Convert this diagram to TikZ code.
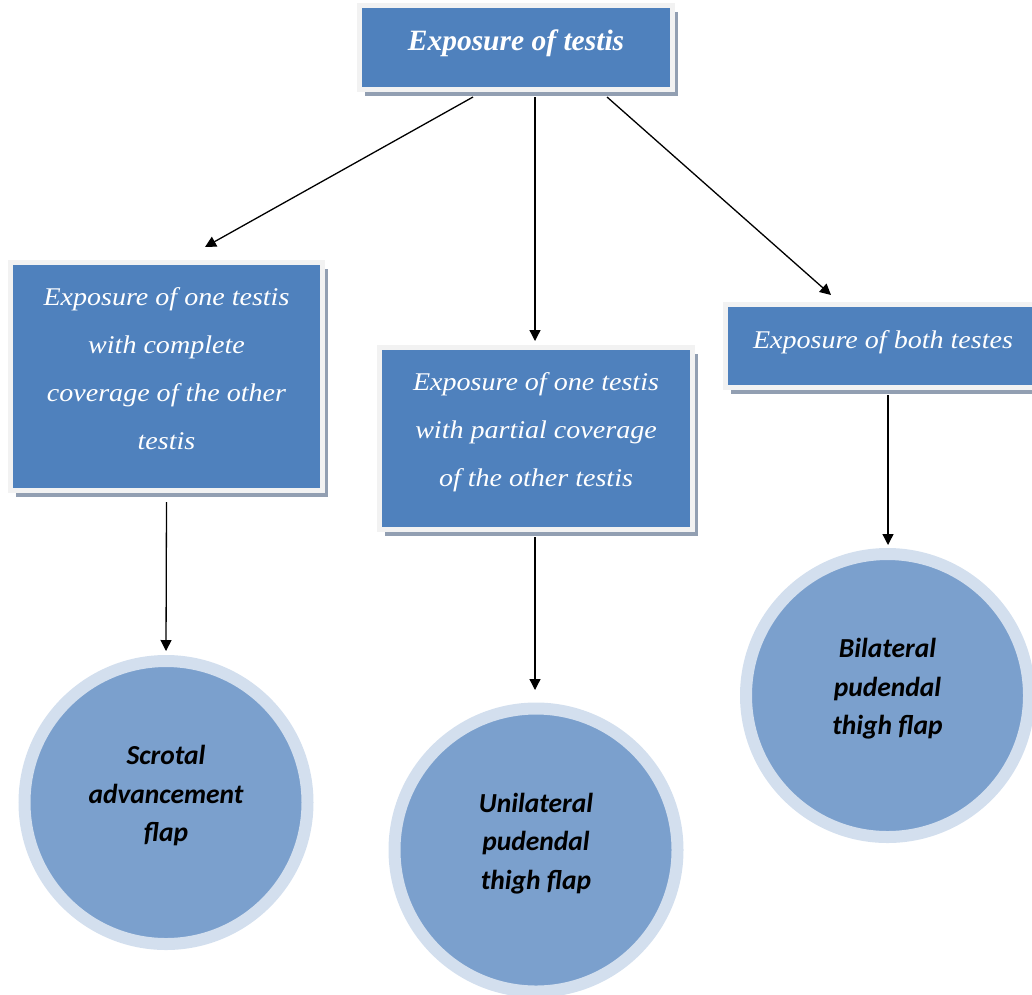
\documentclass[tikz,border=0pt]{standalone}
\usepackage{fontspec}
\setmainfont[FakeStretch=1.1]{Liberation Serif}
\newfontfamily\titlefont{Liberation Serif}
\newfontfamily\flapfont{Carlito}
\usepackage{tikz}
\usetikzlibrary{arrows.meta, positioning, shapes, shadows}

\definecolor{boxblue}{HTML}{4F81BD}
\definecolor{boxframe}{HTML}{F2F2F2}
\definecolor{boxshadow}{HTML}{929FB2}
\definecolor{flapfill}{HTML}{7BA0CD}
\definecolor{flapring}{HTML}{D3DFEE}

\tikzset{
  box/.style={rectangle, fill=boxblue, draw=boxframe, line width=5pt,
    minimum width=313pt, inner sep=0pt, outer sep=0pt, align=center, text=white,
    font=\fontsize{25.5}{48.3}\selectfont\itshape,
    drop shadow={shadow xshift=5.5pt, shadow yshift=-6.5pt, fill=boxshadow, opacity=1}},
  flap/.style={circle, fill=flapfill, draw=flapring, line width=12pt,
    minimum size=283pt, inner sep=0pt, outer sep=0pt, align=center, text=black,
    font=\flapfont\fontsize{27.5}{38.5}\selectfont\bfseries\itshape},
  arrow/.style={-{Triangle[length=11pt,width=11pt]}, line width=1.3pt, black},
}

\begin{document}
\begin{tikzpicture}[x=1pt, y=-1pt]
\useasboundingbox (0,0) rectangle (1032,994);

% top box
\node[box, minimum height=83.5pt, text depth=14pt] (exposure) at (516,47.25)
  {\titlefont\fontsize{29.5}{36}\selectfont\bfseries\itshape Exposure of testis};

% second row
\node[box, minimum width=312pt, minimum height=228pt, text depth=16pt] (complete) at (166.5,376.5)
  {Exposure of one testis\\ with complete\\ coverage of the other\\ testis};
\node[box, minimum height=182pt, text depth=18pt] (partial) at (536,438.5)
  {Exposure of one testis\\ with partial coverage\\ of the other testis};
\node[box, minimum width=315pt, minimum height=83pt, text depth=13.5pt] (both) at (883,346)
  {Exposure of both testes};

% flaps
\node[flap, text depth=18pt] (scrotal) at (166,802.5) {Scrotal\\ advancement\\ flap};
\node[flap, text depth=18pt] (unilateral) at (536,850) {Unilateral\\ pudendal\\ thigh flap};
\node[flap, text depth=18pt] (bilateral) at (887.5,695.5) {Bilateral\\ pudendal\\ thigh flap};

% arrows
\draw[arrow] ([xshift=-43pt,yshift=-8pt]exposure.south) -- ([xshift=38.5pt,yshift=15.5pt]complete.north);
\draw[arrow] ([xshift=19pt,yshift=-8pt]exposure.south) -- ([xshift=-1pt,yshift=6.5pt]partial.north);
\draw[arrow] ([xshift=91pt,yshift=-8pt]exposure.south) -- ([xshift=-52pt,yshift=9.5pt]both.north);
\draw[arrow] ([yshift=-11.5pt]complete.south) -- ([yshift=10pt]scrotal.north);
\draw[arrow] ([xshift=-1pt,yshift=-7.5pt]partial.south) -- ([xshift=-1pt,yshift=18.5pt]unilateral.north);
\draw[arrow] ([xshift=5pt,yshift=-7.5pt]both.south) -- ([xshift=0.5pt,yshift=9pt]bilateral.north);
\end{tikzpicture}
\end{document}
